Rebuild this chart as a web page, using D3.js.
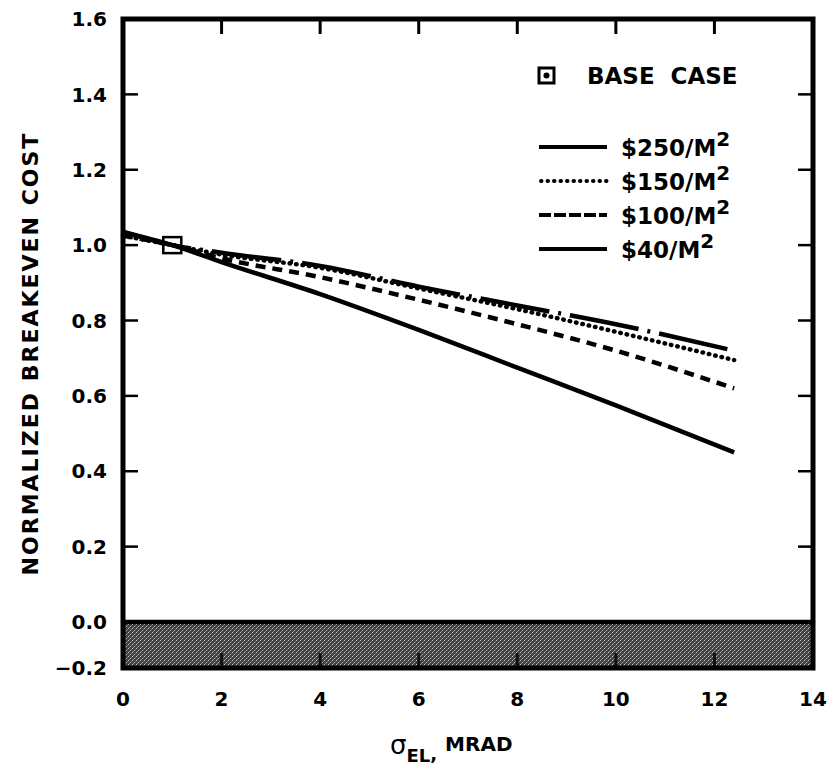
<!DOCTYPE html>
<html>
<head>
<meta charset="utf-8">
<script src="https://cdn.jsdelivr.net/npm/d3@7/dist/d3.min.js"></script>
<style>
  body { margin: 0; background: #fff; }
  svg text { font-family: "DejaVu Sans", sans-serif; font-weight: bold; fill: #000; }
</style>
</head>
<body>
<svg id="chart"></svg>
<script>
// data
const sigma = [0, 1, 2, 4, 6, 8, 10, 12.4];
const cost250 = [1.035, 1.0, 0.98, 0.945, 0.89, 0.84, 0.79, 0.72];
const cost150 = [1.025, 1.0, 0.975, 0.94, 0.885, 0.83, 0.77, 0.695];
const cost100 = [1.025, 1.0, 0.965, 0.915, 0.855, 0.79, 0.72, 0.62];
const cost40 = [1.035, 1.0, 0.955, 0.87, 0.775, 0.675, 0.575, 0.45];
const seriesLabels = ["$250/M", "$150/M", "$100/M", "$40/M"];
const baseCase = { x: 1, y: 1.0 };
const xTicks = [0, 2, 4, 6, 8, 10, 12, 14];
const yTicks = [-0.2, 0, 0.2, 0.4, 0.6, 0.8, 1.0, 1.2, 1.4, 1.6];

const W = 828, H = 778;
const margin = { top: 19, right: 15, bottom: 110, left: 123 };

const svg = d3.select("#chart").attr("width", W).attr("height", H);

const x = d3.scaleLinear().domain([0, 14]).range([margin.left, W - margin.right]);
// the axis is compressed below zero, so use a piecewise scale
const y = d3.scaleLinear().domain([-0.2, 0, 1.6]).range([H - margin.bottom, 622, margin.top]);

// halftone pattern for the negative band
const defs = svg.append("defs");
const pat = defs.append("pattern")
    .attr("id", "halftone")
    .attr("width", 4).attr("height", 4)
    .attr("patternUnits", "userSpaceOnUse");
pat.append("rect").attr("width", 4).attr("height", 4).attr("fill", "#404040");
pat.append("rect").attr("x", 0).attr("y", 0).attr("width", 1).attr("height", 1).attr("fill", "#c8c8c8");
pat.append("rect").attr("x", 2).attr("y", 2).attr("width", 1).attr("height", 1).attr("fill", "#b4b4b4");
pat.append("rect").attr("x", 1).attr("y", 3).attr("width", 1).attr("height", 1).attr("fill", "#8a8a8a");
pat.append("rect").attr("x", 3).attr("y", 1).attr("width", 1).attr("height", 1).attr("fill", "#7a7a7a");

svg.append("rect")
    .attr("x", x(0)).attr("y", y(0))
    .attr("width", x(14) - x(0)).attr("height", y(-0.2) - y(0))
    .attr("fill", "url(#halftone)");

svg.append("line")
    .attr("x1", x(0)).attr("x2", x(14))
    .attr("y1", y(0)).attr("y2", y(0))
    .attr("stroke", "#000").attr("stroke-width", 4.5);

// inward ticks
const tickLen = 15;
const innerX = xTicks.filter(d => d > 0 && d < 14);
const innerY = yTicks.filter(d => d > 0 && d < 1.6);

svg.selectAll(".xt-top").data(innerX).enter().append("line")
    .attr("x1", d => x(d)).attr("x2", d => x(d))
    .attr("y1", y(1.6)).attr("y2", y(1.6) + tickLen)
    .attr("stroke", "#000").attr("stroke-width", 3);
svg.selectAll(".xt-bot").data(innerX).enter().append("line")
    .attr("x1", d => x(d)).attr("x2", d => x(d))
    .attr("y1", y(-0.2)).attr("y2", y(-0.2) - tickLen)
    .attr("stroke", "#111").attr("stroke-width", 3);
svg.selectAll(".yt-left").data(innerY).enter().append("line")
    .attr("x1", x(0)).attr("x2", x(0) + tickLen)
    .attr("y1", d => y(d)).attr("y2", d => y(d))
    .attr("stroke", "#000").attr("stroke-width", 2.5);
svg.selectAll(".yt-right").data(innerY).enter().append("line")
    .attr("x1", x(14)).attr("x2", x(14) - tickLen)
    .attr("y1", d => y(d)).attr("y2", d => y(d))
    .attr("stroke", "#000").attr("stroke-width", 2.5);

// frame
svg.append("rect")
    .attr("x", x(0)).attr("y", y(1.6))
    .attr("width", x(14) - x(0)).attr("height", y(-0.2) - y(1.6))
    .attr("fill", "none").attr("stroke", "#000").attr("stroke-width", 5);

// tick labels
svg.selectAll(".xl").data(xTicks).enter().append("text")
    .attr("x", d => x(d)).attr("y", y(-0.2) + 38)
    .attr("text-anchor", "middle")
    .style("font-size", "20px")
    .text(d => d);

svg.selectAll(".yl").data(yTicks).enter().append("text")
    .attr("x", x(0) - 16).attr("y", d => y(d))
    .attr("dy", "0.36em")
    .attr("text-anchor", "end")
    .style("font-size", "20px")
    .text(d => d < 0 ? "\u2212" + Math.abs(d).toFixed(1) : d.toFixed(1));

// axis titles
svg.append("text")
    .attr("transform", `translate(38,${(y(-0.2) + y(1.6)) / 2 + 10}) rotate(-90)`)
    .attr("text-anchor", "middle")
    .style("font-size", "22px")
    .style("letter-spacing", "2px")
    .text("NORMALIZED BREAKEVEN COST");

const xt = svg.append("text")
    .attr("x", 390).attr("y", 754)
    .style("font-size", "20px");
xt.append("tspan").style("font-weight", "normal").style("font-size", "26px").text("\u03c3");
xt.append("tspan").attr("dy", 8).style("font-size", "18px").text("EL");
xt.append("tspan").attr("dy", -2).style("font-size", "18px").text(",");
xt.append("tspan").attr("dx", 8).attr("dy", -9).text("MRAD");

// curves
const series = [
    { label: seriesLabels[0], values: cost250, dash: "70,9,3,9", cap: "butt" },
    { label: seriesLabels[1], values: cost150, dash: "0.5,6", cap: "round" },
    { label: seriesLabels[2], values: cost100, dash: "10,7", cap: "butt" },
    { label: seriesLabels[3], values: cost40, dash: null, cap: "butt" }
];

const line = d3.line()
    .x(d => x(d[0]))
    .y(d => y(d[1]))
    .curve(d3.curveMonotoneX);

svg.selectAll(".curve").data(series).enter().append("path")
    .attr("class", "curve")
    .attr("d", s => line(sigma.map((v, i) => [v, s.values[i]])))
    .attr("fill", "none")
    .attr("stroke", "#000")
    .attr("stroke-width", 4.5)
    .attr("stroke-linecap", s => s.cap)
    .attr("stroke-dasharray", s => s.dash);

// base case marker
svg.append("rect")
    .attr("x", x(baseCase.x) - 9).attr("y", y(baseCase.y) - 8)
    .attr("width", 18).attr("height", 16)
    .attr("fill", "none").attr("stroke", "#000").attr("stroke-width", 2.5);

// legend
const lg = svg.append("g");
lg.append("rect")
    .attr("x", 539).attr("y", 68).attr("width", 15).attr("height", 15)
    .attr("fill", "none").attr("stroke", "#000").attr("stroke-width", 3);
lg.append("circle").attr("cx", 546.5).attr("cy", 75.5).attr("r", 3).attr("fill", "#000");
lg.append("text")
    .attr("x", 587).attr("y", 84)
    .style("font-size", "23px")
    .style("word-spacing", "8px")
    .text("BASE CASE");

const legendStyles = [
    { dash: null, cap: "butt" },
    { dash: "0.5,6", cap: "round" },
    { dash: "12,3", cap: "butt" },
    { dash: null, cap: "butt" }
];

const rows = lg.selectAll(".row").data(series).enter().append("g")
    .attr("transform", (d, i) => `translate(0,${147 + i * 34})`);
rows.append("line")
    .attr("x1", (d, i) => i === 1 ? 541 : 539).attr("x2", 607)
    .attr("y1", 0).attr("y2", 0)
    .attr("stroke", "#000").attr("stroke-width", 4)
    .attr("stroke-linecap", (d, i) => legendStyles[i].cap)
    .attr("stroke-dasharray", (d, i) => legendStyles[i].dash);
const lt = rows.append("text")
    .attr("x", 621).attr("y", 9)
    .style("font-size", "23px");
lt.append("tspan").text(d => d.label);
lt.append("tspan").attr("dy", -10).style("font-size", "20px").text("2");
</script>
</body>
</html>
